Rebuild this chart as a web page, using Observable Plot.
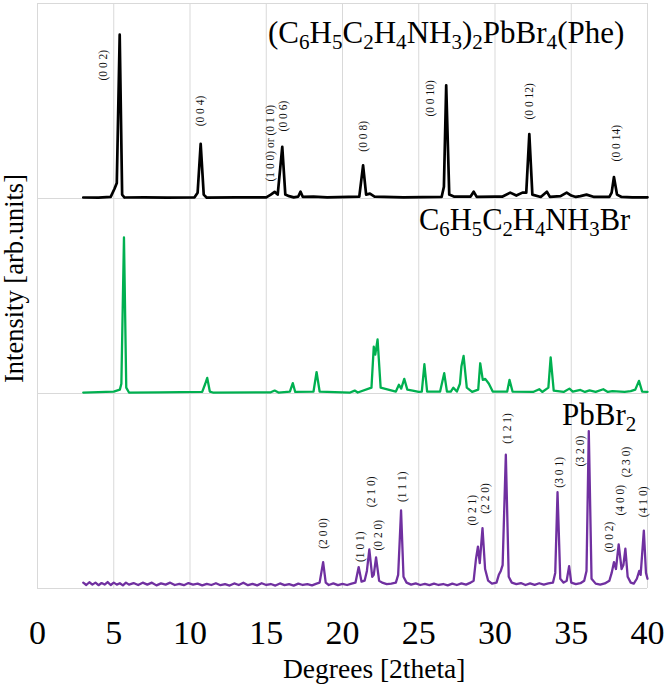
<!DOCTYPE html>
<html>
<head>
<meta charset="utf-8">
<script src="https://cdn.jsdelivr.net/npm/d3@7"></script>
<script src="https://cdn.jsdelivr.net/npm/@observablehq/plot@0.6"></script>
<style>
  html, body { margin: 0; padding: 0; background: #fff; }
  #chart svg { display: block; }
  #chart svg text { font-family: "Liberation Serif", "Times New Roman", serif; }
</style>
</head>
<body>
<div id="chart"></div>
<script>
// ---- Data (2θ in degrees, intensity in panel units) ----
const xTicks = [0, 5, 10, 15, 20, 25, 30, 35, 40];
const panelLevels = [0, 1, 2, 3];

// (C6H5C2H4NH3)2PbBr4 (Phe) – black
const phePattern = [
  [3,0.005],[4,0.004],[4.8,0.008],[5.05,0.05],[5.2,0.08],[5.39,0.84],[5.55,0.02],[5.7,0.005],[7,0.006],[8.5,0.004],
  [10.3,0.006],[10.5,0.03],[10.7,0.28],[10.9,0.02],[11.1,0.004],[13,0.006],[15,0.006],[15.3,0.02],[15.55,0.034],[15.75,0.02],
  [16.05,0.265],[16.25,0.02],[16.5,0.012],[16.8,0.006],[17.1,0.01],[17.25,0.035],[17.4,0.008],[18.1,0.01],[19,0.006],
  [21.1,0.01],[21.35,0.17],[21.55,0.02],[21.8,0.025],[22.1,0.01],[24,0.006],[26.5,0.008],[26.65,0.06],[26.8,0.58],[27,0.02],
  [27.3,0.01],[28.4,0.01],[28.6,0.035],[28.8,0.008],[30,0.01],[30.5,0.01],[31.0,0.03],[31.4,0.015],[31.8,0.03],[32.05,0.03],
  [32.25,0.33],[32.45,0.02],[33,0.008],[33.4,0.035],[33.6,0.008],[34.3,0.012],[34.7,0.03],[35.0,0.015],[35.3,0.008],
  [35.6,0.012],[36.0,0.02],[36.5,0.008],[37.5,0.008],[37.65,0.03],[37.8,0.11],[38.0,0.02],[38.3,0.008],[39,0.006],[40,0.006]
];

// C6H5C2H4NH3Br – green
const pheBrPattern = [
  [3,0.005],[5,0.01],[5.4,0.02],[5.5,0.05],[5.67,0.80],[5.82,0.03],[6.0,0.005],[8,0.006],[10.8,0.008],[11.0,0.05],
  [11.13,0.08],[11.3,0.01],[11.5,0.005],[15.3,0.006],[15.55,0.015],[15.8,0.005],[16.55,0.01],[16.74,0.053],[16.9,0.008],
  [18.1,0.01],[18.3,0.11],[18.5,0.01],[20.5,0.005],[20.8,0.015],[21.0,0.005],[21.9,0.03],[22.05,0.24],[22.15,0.2],
  [22.3,0.277],[22.5,0.03],[23.5,0.01],[23.7,0.045],[23.85,0.025],[24.05,0.075],[24.25,0.02],[24.6,0.015],[25.0,0.008],
  [25.2,0.01],[25.37,0.15],[25.55,0.01],[26.4,0.01],[26.67,0.104],[26.85,0.01],[27.1,0.01],[27.27,0.03],[27.5,0.01],
  [27.7,0.05],[27.8,0.14],[27.94,0.193],[28.15,0.03],[28.5,0.008],[28.9,0.02],[29.03,0.155],[29.2,0.07],[29.36,0.075],
  [29.6,0.05],[29.85,0.01],[30.8,0.01],[30.95,0.07],[31.15,0.01],[32.5,0.008],[32.9,0.022],[33.1,0.008],[33.5,0.03],
  [33.65,0.185],[33.85,0.015],[34.5,0.008],[34.88,0.025],[35.1,0.01],[35.6,0.018],[35.9,0.008],[36.2,0.016],[36.6,0.008],
  [37.1,0.022],[37.4,0.008],[37.7,0.012],[38.5,0.008],[38.9,0.012],[39.2,0.02],[39.44,0.065],[39.65,0.01],[40,0.008]
];

// PbBr2 – purple
const pbbr2Pattern = [
  [3,0.03],[3.2,0.018],[3.4,0.032],[3.6,0.02],[3.8,0.03],[4.0,0.017],[4.2,0.028],[4.4,0.02],[4.6,0.033],[4.8,0.018],
  [5.0,0.03],[5.2,0.02],[5.4,0.027],[5.6,0.016],[5.8,0.03],[6.0,0.02],[6.3,0.028],[6.6,0.018],[6.9,0.03],[7.2,0.02],
  [7.5,0.03],[7.8,0.016],[8.1,0.026],[8.4,0.02],[8.7,0.03],[9.0,0.018],[9.3,0.024],[9.6,0.017],[9.9,0.028],[10.2,0.02],
  [10.5,0.025],[10.8,0.016],[11.1,0.024],[11.4,0.018],[11.7,0.027],[12.0,0.017],[12.3,0.022],[12.6,0.015],[12.9,0.026],
  [13.2,0.018],[13.5,0.03],[13.8,0.017],[14.1,0.024],[14.4,0.016],[14.7,0.027],[15.0,0.018],[15.3,0.023],[15.6,0.015],
  [15.9,0.026],[16.2,0.017],[16.5,0.022],[16.8,0.015],[17.1,0.025],[17.4,0.018],[17.7,0.022],[18.0,0.016],[18.3,0.025],
  [18.5,0.03],[18.73,0.135],[18.9,0.03],[19.1,0.018],[19.4,0.026],[19.7,0.017],[20.0,0.024],[20.3,0.018],[20.6,0.025],
  [20.85,0.03],[21.06,0.11],[21.25,0.035],[21.45,0.04],[21.6,0.09],[21.76,0.2],[21.95,0.06],[22.05,0.07],[22.2,0.16],
  [22.4,0.04],[22.6,0.03],[22.9,0.022],[23.2,0.025],[23.5,0.03],[23.65,0.07],[23.84,0.40],[24.0,0.06],[24.2,0.03],
  [24.5,0.02],[24.8,0.026],[25.1,0.018],[25.4,0.024],[25.7,0.017],[26.0,0.025],[26.3,0.018],[26.6,0.023],[26.9,0.016],
  [27.2,0.025],[27.5,0.018],[27.8,0.026],[28.1,0.02],[28.4,0.03],[28.6,0.04],[28.75,0.15],[28.88,0.215],[29.0,0.13],
  [29.18,0.31],[29.35,0.1],[29.55,0.04],[29.8,0.025],[30.1,0.03],[30.25,0.07],[30.38,0.09],[30.5,0.12],[30.71,0.686],
  [30.9,0.06],[31.1,0.03],[31.4,0.022],[31.7,0.028],[32.0,0.018],[32.3,0.026],[32.6,0.019],[32.9,0.027],[33.2,0.02],
  [33.5,0.026],[33.8,0.03],[33.95,0.08],[34.1,0.494],[34.28,0.05],[34.5,0.03],[34.7,0.04],[34.86,0.115],[35.0,0.03],
  [35.3,0.022],[35.6,0.027],[35.85,0.04],[36.0,0.09],[36.15,0.807],[36.33,0.05],[36.6,0.025],[36.9,0.02],[37.2,0.026],
  [37.5,0.04],[37.65,0.08],[37.8,0.135],[37.93,0.1],[38.11,0.226],[38.3,0.1],[38.42,0.12],[38.55,0.204],[38.7,0.06],
  [38.9,0.03],[39.1,0.025],[39.3,0.05],[39.46,0.09],[39.55,0.07],[39.76,0.297],[39.9,0.08],[40,0.05]
];

// Miller-index annotations: text, 2θ, label foot (panel units)
const pheLabels = [
  {t:"(0 0 2)", x:4.34, y:0.605},
  {t:"(0 0 4)", x:10.69, y:0.37},
  {t:"(1 0 0) or (0 1 0)", x:15.28, y:0.087},
  {t:"(0 0 6)", x:16.13, y:0.344},
  {t:"(0 0 8)", x:21.37, y:0.24},
  {t:"(0 0 10)", x:25.76, y:0.42},
  {t:"(0 0 12)", x:32.24, y:0.405},
  {t:"(0 0 14)", x:37.94, y:0.19}
];
const pbbr2Labels = [
  {t:"(2 0 0)", x:18.77, y:0.204},
  {t:"(1 0 1)", x:21.17, y:0.136},
  {t:"(2 1 0)", x:21.87, y:0.417},
  {t:"(0 2 0)", x:22.33, y:0.195},
  {t:"(1 1 1)", x:23.9, y:0.443},
  {t:"(0 2 1)", x:28.49, y:0.323},
  {t:"(2 2 0)", x:29.36, y:0.383},
  {t:"(1 2 1)", x:30.78, y:0.742},
  {t:"(3 0 1)", x:34.22, y:0.517},
  {t:"(3 2 0)", x:35.62, y:0.626},
  {t:"(0 0 2)", x:37.5, y:0.186},
  {t:"(4 0 0)", x:38.2, y:0.374},
  {t:"(2 3 0)", x:38.6, y:0.57},
  {t:"(4 1 0)", x:39.7, y:0.366}
];

const seriesTitles = [
  "(C_6H_5C_2H_4NH_3)_2PbBr_4(Phe)",
  "C_6H_5C_2H_4NH_3Br",
  "PbBr_2"
];
const xLabel = "Degrees [2theta]";
const yLabel = "Intensity [arb.units]";

// ---- Chart ----
const FONT = "Liberation Serif, Times New Roman, serif";
const colors = {phe: "#000000", pheBr: "#00B050", pbbr2: "#7030A0"};
const off = {phe: 2, pheBr: 1, pbbr2: 0};

const plot = Plot.plot({
  width: 666,
  height: 687,
  marginLeft: 37,
  marginRight: 19,
  marginTop: 3,
  marginBottom: 99,
  x: {domain: [0, 40], axis: null},
  y: {domain: [0, 3], axis: null},
  style: {fontFamily: FONT, background: "#fff", overflow: "visible"},
  marks: [
    Plot.ruleX(xTicks, {stroke: "#d9d9d9", strokeWidth: 1}),
    Plot.ruleY(panelLevels, {stroke: "#d9d9d9", strokeWidth: 1}),
    Plot.line(pbbr2Pattern, {x: d => d[0], y: d => d[1] + off.pbbr2, stroke: colors.pbbr2, strokeWidth: 2.3, strokeLinejoin: "round"}),
    Plot.line(pheBrPattern, {x: d => d[0], y: d => d[1] + off.pheBr, stroke: colors.pheBr, strokeWidth: 2.3, strokeLinejoin: "round"}),
    Plot.line(phePattern, {x: d => d[0], y: d => d[1] + off.phe, stroke: colors.phe, strokeWidth: 2.7, strokeLinejoin: "round"}),
    Plot.text(pheLabels, {x: "x", y: d => d.y + off.phe, text: "t", rotate: -90, textAnchor: "start", fontSize: 11.5, fill: "#111", ariaLabel: "hkl"}),
    Plot.text(pbbr2Labels, {x: "x", y: d => d.y + off.pbbr2, text: "t", rotate: -90, textAnchor: "start", fontSize: 11.5, fill: "#111", ariaLabel: "hkl"}),
    Plot.axisX({ticks: xTicks, tickSize: 0, tickPadding: 31, fontSize: 34, label: null, fill: "#000", ariaLabel: "xticks"})
  ]
});

document.getElementById("chart").append(plot);

const svg = d3.select(plot);
svg.selectAll('g[aria-label="hkl"] text').style("letter-spacing", "0.8px").style("font-size", "11.5px");
svg.selectAll('g[aria-label="xticks"] text').style("font-size", "34px");

function subText(str, x, y, size) {
  const t = svg.append("text")
    .attr("x", x).attr("y", y)
    .attr("text-anchor", "start")
    .style("font-size", size + "px")
    .attr("fill", "#000");
  const parts = str.split(/_(\d)/);
  const sub = size * 0.68, shift = size * 0.2;
  let pending = 0;
  parts.forEach((p, i) => {
    if (!p) return;
    if (i % 2 === 1) {
      t.append("tspan").style("font-size", sub + "px").attr("dy", shift).text(p);
      pending = -shift;
    } else {
      t.append("tspan").attr("dy", pending).text(p);
      pending = 0;
    }
  });
  return t;
}

subText(seriesTitles[0], 268, 43, 31);
subText(seriesTitles[1], 419, 230, 30.5);
subText(seriesTitles[2], 562, 425, 31);

svg.append("text")
  .attr("x", 283).attr("y", 678)
  .attr("text-anchor", "start")
  .style("font-size", "27.5px").attr("fill", "#000")
  .text(xLabel);

svg.append("text")
  .attr("transform", "translate(23,278.5) rotate(-90)")
  .attr("text-anchor", "middle")
  .style("font-size", "26.5px").attr("fill", "#000")
  .text(yLabel);
</script>
</body>
</html>
